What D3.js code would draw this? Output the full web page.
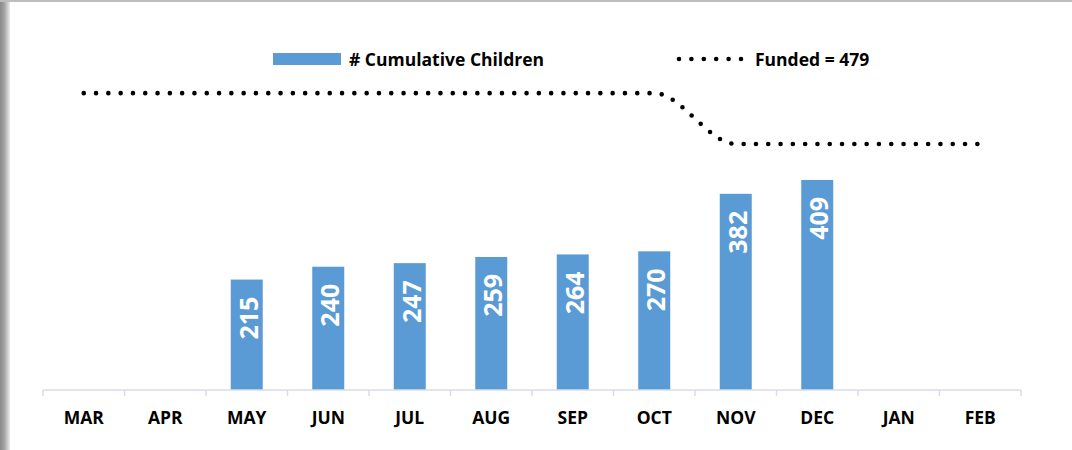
<!DOCTYPE html>
<html><head><meta charset="utf-8">
<script src="https://cdn.jsdelivr.net/npm/d3@7"></script>
<style>body{margin:0;background:#fff}svg{display:block}</style>
</head><body>
<svg id="c" width="1072" height="450"></svg>
<script>
const months = ["MAR","APR","MAY","JUN","JUL","AUG","SEP","OCT","NOV","DEC","JAN","FEB"];
const children = [null,null,215,240,247,259,264,270,382,409,null,null];
const funded = [578,578,578,578,578,578,578,578,479,479,479,479];
const seriesNames = ["# Cumulative Children","Funded = 479"];

const svg = d3.select("#c");
const FONT = "'Open Sans', sans-serif";
const blue = "#5b9bd5";

// frame
const defs = svg.append("defs");
const g0 = defs.append("linearGradient").attr("id","lg").attr("x1",0).attr("x2",1);
g0.append("stop").attr("offset",0).attr("stop-color","#8a8a8a");
g0.append("stop").attr("offset",0.4).attr("stop-color","#a0a0a0");
g0.append("stop").attr("offset",1).attr("stop-color","#ececec");
svg.append("rect").attr("x",0).attr("y",0).attr("width",10).attr("height",450).attr("fill","url(#lg)");
svg.append("rect").attr("x",0).attr("y",0).attr("width",1072).attr("height",2).attr("fill","#bdbdbd");

const x = d3.scaleBand().domain(months).range([43,1021]).paddingInner(0).paddingOuter(0);
const y = d3.scaleLinear().domain([0,600]).range([390,390-600*0.5136]);

// bars
const bw = 32;
const bars = months.map((m,i)=>({m, v:children[i]})).filter(d=>d.v!=null);
svg.append("g").selectAll("rect").data(bars).join("rect")
  .attr("x",d=>x(d.m)+x.bandwidth()/2-bw/2).attr("width",bw)
  .attr("y",d=>y(d.v)).attr("height",d=>y(0)-y(d.v)).attr("fill",blue);

svg.append("g").selectAll("text").data(bars).join("text")
  .attr("transform",d=>`translate(${x(d.m)+x.bandwidth()/2+1},${y(d.v)+17}) rotate(-90)`)
  .attr("text-anchor","end").attr("dominant-baseline","central")
  .attr("fill","#fff").attr("font-family",FONT).attr("font-weight",700).attr("font-size",25)
  .text(d=>d.v);

// axis
const ax = svg.append("g").attr("transform","translate(0,390)");
ax.append("line").attr("x1",43).attr("x2",1021).attr("y1",0).attr("y2",0).attr("stroke","#d9dde6").attr("stroke-width",1.5);
const bounds = months.map(m=>x(m)).concat([x.range()[1]]);
ax.selectAll("line.t").data(bounds).join("line").attr("class","t")
  .attr("x1",d=>d).attr("x2",d=>d).attr("y1",0).attr("y2",6).attr("stroke","#d9dde6").attr("stroke-width",1.5);
ax.selectAll("text").data(months).join("text")
  .attr("x",d=>x(d)+x.bandwidth()/2).attr("y",34).attr("text-anchor","middle")
  .attr("font-family",FONT).attr("font-weight",700).attr("font-size",17.5).attr("fill","#000")
  .text(d=>d);

// funded line
const line = d3.line().x((d,i)=>x(months[i])+x.bandwidth()/2).y(d=>y(d)).curve(d3.curveMonotoneX);
svg.append("path").attr("d",line(funded)).attr("fill","none").attr("stroke","#000")
  .attr("stroke-width",4.6).attr("stroke-linecap","round").attr("stroke-dasharray","0 12.3");

// legend
const lg = svg.append("g");
lg.append("rect").attr("x",273).attr("y",53).attr("width",68).attr("height",12).attr("fill",blue);
lg.append("text").attr("x",349).attr("y",66).attr("font-family",FONT).attr("font-weight",700)
  .attr("font-size",17.5).attr("fill","#000").text(seriesNames[0]);
lg.append("line").attr("x1",679).attr("x2",742).attr("y1",59).attr("y2",59).attr("stroke","#000")
  .attr("stroke-width",4.6).attr("stroke-linecap","round").attr("stroke-dasharray","0 12.4");
lg.append("text").attr("x",755).attr("y",66).attr("font-family",FONT).attr("font-weight",700)
  .attr("font-size",17.5).attr("fill","#000").text(seriesNames[1]);
</script>
</body></html>
